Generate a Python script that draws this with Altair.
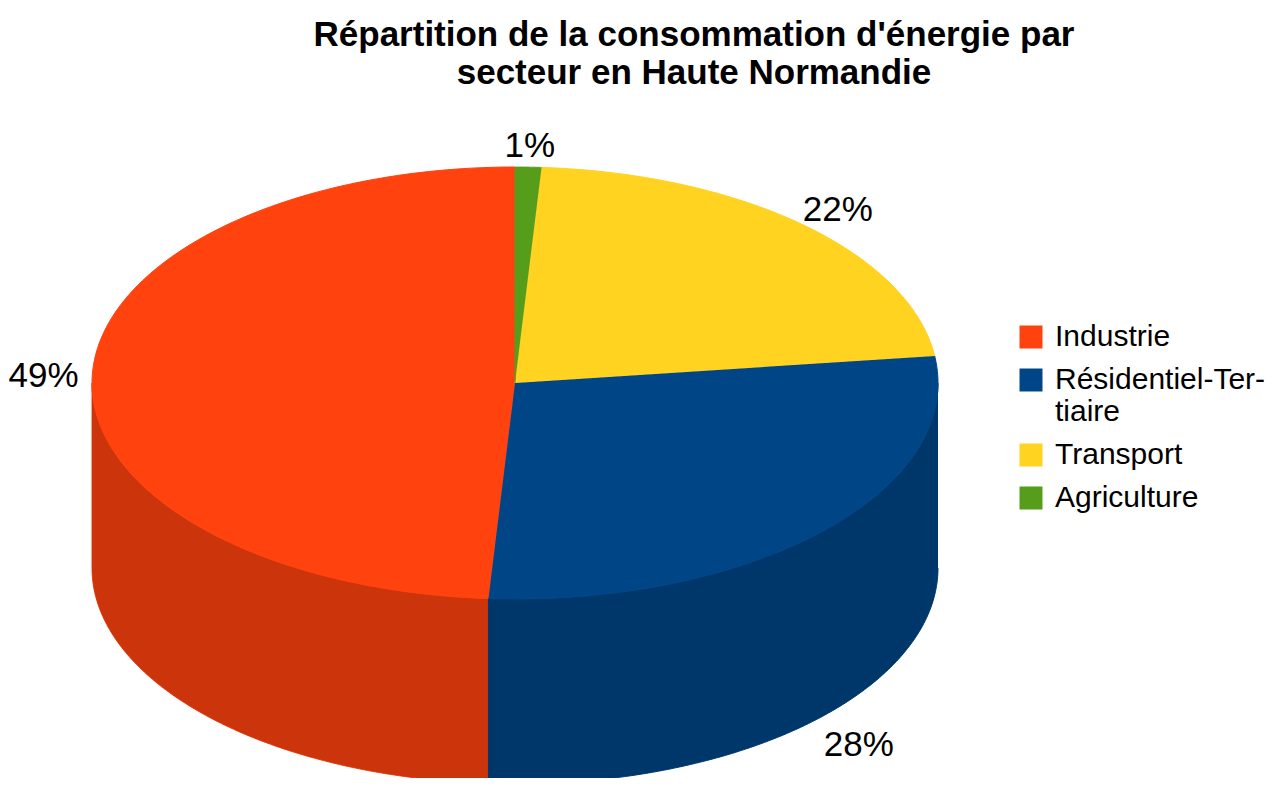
import altair as alt
import pandas as pd

# ---- data ----
sectors = ["Industrie", "Résidentiel-Tertiaire", "Transport", "Agriculture"]
shares = [49, 28, 22, 1]
# clockwise drawing order starting at 12 o'clock
clock_order = [4, 3, 2, 1]

# ---- styles ----
colors = ["#FF420E", "#004586", "#FFD320", "#579D1C"]
RX, RY, DEPTH, N = 423, 216, 185, 120
LFX, LFY = 1.115, 1.1  # label distance factors

df = pd.DataFrame({"sector": sectors, "value": shares, "pos": clock_order})

color_scale = alt.Scale(domain=sectors, range=colors)
xs = alt.Scale(domain=[-507, 759], nice=False, zero=False)
ys = alt.Scale(domain=[-395, 275], nice=False, zero=False)

legend = alt.Legend(
    orient="none", legendX=1008, legendY=214, title=None,
    symbolType="square", symbolSize=529, symbolStrokeWidth=0,
    labelFontSize=30, labelFont="Liberation Sans", labelColor="black",
    labelOffset=9, labelLimit=400, rowPadding=13,
    labelExpr="datum.label == 'Résidentiel-Tertiaire' ? ['Résidentiel-Ter-', 'tiaire'] : datum.label",
)

base = alt.Chart(df).transform_window(
    cum="sum(value)", sort=[alt.SortField("pos")]
).transform_joinaggregate(total="sum(value)").transform_calculate(
    s="(datum.cum - datum.value) / datum.total",
    e="datum.cum / datum.total",
)

X = alt.X("px:Q", scale=xs, axis=None)
Y = alt.Y("py:Q", scale=ys, axis=None)

# top face (elliptical sectors)
top = base.transform_calculate(
    k=f"sequence(-1, {N + 1})"
).transform_flatten(["k"]).transform_calculate(
    t=f"2*PI*(datum.s + (datum.e - datum.s)*datum.k/{N})"
).transform_calculate(
    px=f"datum.k < 0 ? 0 : {RX}*sin(datum.t)",
    py=f"datum.k < 0 ? 0 : {RY}*cos(datum.t)",
).mark_line(strokeWidth=1).encode(
    x=X, y=Y, order="k:Q", detail="sector:N",
    fill=alt.Fill("sector:N", scale=color_scale, legend=legend, sort=sectors),
    stroke=alt.Stroke("sector:N", scale=color_scale, legend=None),
)

# visible side wall (front half)
side_base = base.transform_calculate(
    a="max(datum.s, 0.25)", b="min(datum.e, 0.75)"
).transform_filter("datum.a < datum.b").transform_calculate(
    k=f"sequence(0, {2 * N + 2})"
).transform_flatten(["k"]).transform_calculate(
    t=f"2*PI*(datum.k <= {N} ? datum.a + (datum.b - datum.a)*datum.k/{N} : datum.b - (datum.b - datum.a)*(datum.k - {N + 1})/{N})"
).transform_calculate(
    px=f"{RX}*sin(datum.t)",
    py=f"{RY}*cos(datum.t) - (datum.k > {N} ? {DEPTH} : 0)",
)

side = side_base.mark_line(strokeWidth=1).encode(
    x=X, y=Y, order="k:Q", detail="sector:N",
    fill=alt.Fill("sector:N", scale=color_scale, legend=legend, sort=sectors),
    stroke=alt.Stroke("sector:N", scale=color_scale, legend=None),
)
side_dark = side_base.mark_line(
    fill="black", fillOpacity=0.2, stroke="black", strokeOpacity=0.0, strokeWidth=0
).encode(x=X, y=Y, order="k:Q", detail="sector:N")

# percentage labels
labels = base.transform_calculate(
    m="PI*(datum.s + datum.e)",
    lab="datum.value + '%'",
).transform_calculate(
    px=f"{RX * LFX}*sin(datum.m)",
    py=f"{RY * LFY}*cos(datum.m) - (cos(datum.m) < 0 ? {DEPTH + 14} : 0)",
).mark_text(fontSize=35, font="Liberation Sans", color="black").encode(
    x=X, y=Y, text="lab:N"
)

chart = alt.layer(side, side_dark, top, labels).properties(
    width=1266, height=670,
    padding={"left": 0, "right": 0, "top": 100, "bottom": 0},
    autosize=alt.AutoSizeParams(type="none"),
    title=alt.Title(
        ["Répartition de la consommation d'énergie par", "secteur en Haute Normandie"],
        fontSize=35, font="Liberation Sans", fontWeight="bold", color="black",
        anchor="middle", dx=53, offset=17, lineHeight=38,
    ),
).configure_view(strokeWidth=0)

chart.save("out.html", embed_options={"renderer": "svg", "actions": False})
